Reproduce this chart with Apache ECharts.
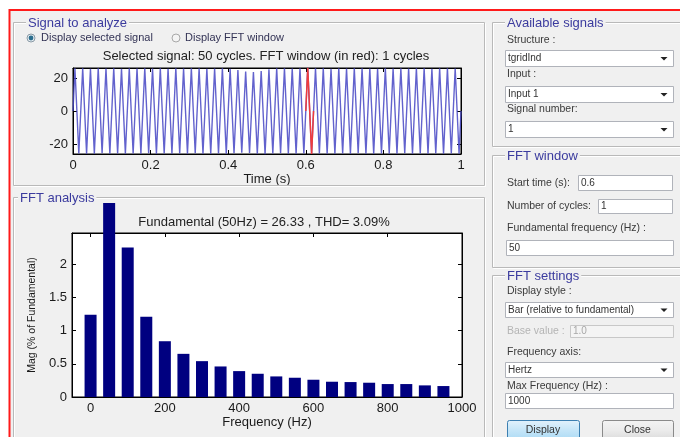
<!DOCTYPE html>
<html>
<head>
<meta charset="utf-8">
<title>FFT Analysis</title>
<script src="https://cdn.jsdelivr.net/npm/echarts@6/dist/echarts.min.js"></script>
<style>
  html, body { margin: 0; padding: 0; background: #ffffff; }
  #main { width: 680px; height: 437px; }
</style>
</head>
<body>
<div id="main"></div>
<script>
// ---- Selected signal: extreme value of each half cycle (50 Hz, 50 cycles over 1 s) ----
const signalPeaks = [
  25.9, -25.7, 25.8, -25.9, 25.6, -25.8, 25.9, -25.6, 25.7, -25.9,
  25.8, -25.7, 25.6, -25.8, 25.9, -25.7, 25.7, -25.9, 25.8, -25.6,
  25.7, -25.8, 25.9, -25.7, 25.6, -25.9, 25.8, -25.7, 25.7, -25.8,
  25.9, -25.6, 25.8, -25.8, 25.6, -25.9, 25.7, -25.7, 25.8, -25.8,
  25.5, -25.6, 24.8, -25.2, 23.9, -25.4, 23.6, -25.8, 24.2, -26.1,
  25.2, -25.7, 25.8, -25.6, 25.9, -25.8, 25.7, -25.9, 25.8, -25.7,
  26.1, -26.0, 25.8, -25.7, 25.9, -25.8, 25.6, -25.9, 25.8, -25.7,
  25.7, -25.8, 25.9, -25.6, 25.8, -25.9, 25.7, -25.8, 25.6, -25.7,
  25.9, -25.8, 25.7, -25.9, 25.8, -25.6, 25.7, -25.8, 25.9, -25.7,
  25.8, -25.9, 25.6, -25.7, 25.8, -25.8, 25.9, -25.7, 25.7, -25.9
];
const halfCycleSeconds = 0.01;
const fftWindowStart = 0.6;     // s
const fftWindowCycles = 1;
const fundamentalHz = 50;

// ---- FFT result: harmonic magnitudes in % of fundamental ----
const harmonicFreqs = [0, 50, 100, 150, 200, 250, 300, 350, 400, 450,
                       500, 550, 600, 650, 700, 750, 800, 850, 900, 950];
const harmonicMags  = [1.24, 2.92, 2.25, 1.21, 0.84, 0.65, 0.54, 0.46, 0.39, 0.35,
                       0.31, 0.29, 0.26, 0.23, 0.225, 0.215, 0.195, 0.195, 0.175, 0.165];

// ---- tick labels ----
const timeTicks = [0, 0.2, 0.4, 0.6, 0.8, 1];
const signalTicks = [-20, 0, 20];
const freqTicks = [0, 200, 400, 600, 800, 1000];
const magTicks = [0, 0.5, 1, 1.5, 2];

const FONT = '"Liberation Sans", Arial, Helvetica, sans-serif';

// waveform polyline through the half-cycle extremes
const signalLine = [[0, 0]]
  .concat(signalPeaks.map((v, i) => [(i + 0.5) * halfCycleSeconds, v]))
  .concat([[1, 0]]);
const windowEnd = fftWindowStart + fftWindowCycles / fundamentalHz;
const windowLine = [[fftWindowStart, 0]]
  .concat(signalLine.filter(p => p[0] > fftWindowStart && p[0] < windowEnd))
  .concat([[windowEnd, 0]]);
const barData = harmonicFreqs.map((f, i) => [f, harmonicMags[i]]);

// ---------- GUI decorations ----------
const G = [];
function text(x, y, s, opt) {
  const st = Object.assign({
    text: s, fill: '#3a3a3a', font: '10.5px ' + FONT,
    align: 'left', verticalAlign: 'middle',
    textAlign: 'left', textVerticalAlign: 'middle'
  }, opt || {});
  G.push({ type: 'text', x: x, y: y, z: 6, style: st, silent: true });
}
function panel(x, y, w, h, title, tx) {
  G.push({ type: 'rect', z: 1, silent: true,
    shape: { x: x + 1.5, y: y + 1.5, width: w, height: h },
    style: { fill: null, stroke: '#ffffff', lineWidth: 1 } });
  G.push({ type: 'rect', z: 2, silent: true,
    shape: { x: x + 0.5, y: y + 0.5, width: w, height: h },
    style: { fill: null, stroke: '#b9b9b9', lineWidth: 1 } });
  text(tx, y + 1, title, { fill: '#3b3b9e', font: '13px ' + FONT,
    backgroundColor: '#f0f0f0', padding: [0, 2, 0, 2] });
}
function box(x, y, w, h, value, opt) {
  opt = opt || {};
  G.push({ type: 'rect', z: 3, silent: true,
    shape: { x: x + 0.5, y: y + 0.5, width: w, height: h },
    style: { fill: opt.fill || '#ffffff', stroke: opt.stroke || '#b0b3ba', lineWidth: 1 } });
  text(x + 3, y + h / 2 + 0.5, value, { fill: opt.color || '#333333', font: '10px ' + FONT });
}
function dropdown(x, y, w, h, value) {
  box(x, y, w, h, value);
  const cx = x + w - 9, cy = y + h / 2 + 0.5;
  G.push({ type: 'polygon', z: 6, silent: true,
    shape: { points: [[cx - 3.5, cy - 1.5], [cx + 3.5, cy - 1.5], [cx, cy + 2]] },
    style: { fill: '#222222' } });
}
function button(x, y, w, h, label, blue) {
  G.push({ type: 'rect', z: 3, silent: true,
    shape: { x: x + 0.5, y: y + 0.5, width: w, height: h, r: 2 },
    style: {
      fill: new echarts.graphic.LinearGradient(0, 0, 0, 1, blue
        ? [{ offset: 0, color: '#e3f2fc' }, { offset: 0.5, color: '#c4e5f8' }, { offset: 1, color: '#a9d9f4' }]
        : [{ offset: 0, color: '#f4f4f4' }, { offset: 0.5, color: '#ebebeb' }, { offset: 1, color: '#d9d9d9' }]),
      stroke: blue ? '#3c7fb1' : '#8a8a8a', lineWidth: 1 } });
  text(x + w / 2, y + h / 2 + 0.5, label, { align: 'center', textAlign: 'center', fill: '#333333', font: '10.5px ' + FONT });
}

// window background with red outline
G.push({ type: 'rect', z: -10, silent: true,
  shape: { x: 9.5, y: 10, width: 700, height: 460 },
  style: { fill: '#f0f0f0', stroke: '#ff1a1a', lineWidth: 2 } });

// left panels
panel(13, 22, 471, 163, 'Signal to analyze', 26);
panel(13, 197, 471, 260, 'FFT analysis', 18);

// radio buttons
G.push({ type: 'circle', z: 5, silent: true, shape: { cx: 31, cy: 38, r: 4 },
  style: { fill: '#e8eef2', stroke: '#8a9aa6', lineWidth: 1 } });
G.push({ type: 'circle', z: 6, silent: true, shape: { cx: 31, cy: 38, r: 2.4 },
  style: { fill: '#2c6e8e' } });
text(41, 38, 'Display selected signal', { font: '11px ' + FONT, fill: '#333355' });
G.push({ type: 'circle', z: 5, silent: true, shape: { cx: 176, cy: 38, r: 4 },
  style: { fill: '#f4f4f4', stroke: '#a8a8a8', lineWidth: 1 } });
text(185, 38, 'Display FFT window', { font: '11px ' + FONT, fill: '#333355' });

// plot titles
text(266, 56, 'Selected signal: 50 cycles. FFT window (in red): 1 cycles',
  { align: 'center', textAlign: 'center', font: '13px ' + FONT, fill: '#222222' });
text(264, 222, 'Fundamental (50Hz) = 26.33 , THD= 3.09%',
  { align: 'center', textAlign: 'center', font: '13px ' + FONT, fill: '#222222' });

// right panels
panel(492, 22, 200, 124, 'Available signals', 505);
text(507, 40, 'Structure :');
dropdown(505, 50, 168, 16, 'tgridInd');
text(507, 74, 'Input :');
dropdown(505, 86, 168, 16, 'Input 1');
text(507, 109, 'Signal number:');
dropdown(505, 121, 168, 16, '1');

panel(492, 155, 200, 112, 'FFT window', 505);
text(507, 183, 'Start time (s):');
box(578, 175, 94, 15, '0.6');
text(507, 206, 'Number of cycles:');
box(598, 199, 74, 14, '1');
text(507, 228, 'Fundamental frequency (Hz) :');
box(506, 240, 167, 15, '50');

panel(492, 275, 200, 180, 'FFT settings', 505);
text(507, 291, 'Display style :');
dropdown(505, 302, 168, 15, 'Bar (relative to fundamental)');
text(507, 331, 'Base value :', { fill: '#b4b4b4' });
box(570, 325, 103, 12, '1.0', { fill: '#f4f4f4', stroke: '#c8c8c8', color: '#a8a8a8' });
text(507, 352, 'Frequency axis:');
dropdown(505, 362, 168, 15, 'Hertz');
text(507, 386, 'Max Frequency (Hz) :');
box(505, 393, 168, 15, '1000');
button(507, 420, 72, 20, 'Display', true);
button(602, 420, 71, 20, 'Close', false);

// ---------- axes ----------
const axisLineBlack = { show: true, onZero: false, lineStyle: { color: '#000000', width: 1 } };
const tickIn = (vals) => ({ show: true, inside: true, length: 4, customValues: vals, lineStyle: { color: '#000000' } });
const labelStyle = (vals, margin) => ({
  customValues: vals, margin: margin, color: '#1a1a1a', fontSize: 13, fontFamily: FONT,
  formatter: (v) => String(v)
});

const option = {
  animation: false,
  backgroundColor: '#ffffff',
  graphic: { elements: G },
  grid: [
    { left: 73, top: 68, width: 388, height: 86, show: true, backgroundColor: '#ffffff', borderColor: '#000000', borderWidth: 1 },
    { left: 72, top: 233, width: 390, height: 164, show: true, backgroundColor: '#ffffff', borderColor: '#000000', borderWidth: 1 }
  ],
  xAxis: [
    { gridIndex: 0, type: 'value', min: 0, max: 1, position: 'bottom',
      axisLine: axisLineBlack, axisTick: tickIn(timeTicks), axisLabel: labelStyle(timeTicks, 5),
      splitLine: { show: false },
      name: 'Time (s)', nameLocation: 'middle', nameGap: 15,
      nameTextStyle: { color: '#1a1a1a', fontSize: 13, fontFamily: FONT } },
    { gridIndex: 0, type: 'value', min: 0, max: 1, position: 'top',
      axisLine: axisLineBlack, axisTick: tickIn(timeTicks), axisLabel: { show: false }, splitLine: { show: false } },
    { gridIndex: 1, type: 'value', min: -50, max: 1000, position: 'bottom',
      axisLine: axisLineBlack, axisTick: tickIn(freqTicks), axisLabel: labelStyle(freqTicks, 5),
      splitLine: { show: false },
      name: 'Frequency (Hz)', nameLocation: 'middle', nameGap: 17,
      nameTextStyle: { color: '#1a1a1a', fontSize: 13, fontFamily: FONT } },
    { gridIndex: 1, type: 'value', min: -50, max: 1000, position: 'top',
      axisLine: axisLineBlack, axisTick: tickIn(freqTicks), axisLabel: { show: false }, splitLine: { show: false } }
  ],
  yAxis: [
    { gridIndex: 0, type: 'value', min: -26, max: 26, position: 'left',
      axisLine: axisLineBlack, axisTick: tickIn(signalTicks), axisLabel: labelStyle(signalTicks, 5),
      splitLine: { show: false } },
    { gridIndex: 0, type: 'value', min: -26, max: 26, position: 'right',
      axisLine: axisLineBlack, axisTick: tickIn(signalTicks), axisLabel: { show: false }, splitLine: { show: false } },
    { gridIndex: 1, type: 'value', min: 0, max: 2.47, position: 'left',
      axisLine: axisLineBlack, axisTick: tickIn(magTicks), axisLabel: labelStyle(magTicks, 5),
      splitLine: { show: false },
      name: 'Mag (% of Fundamental)', nameLocation: 'middle', nameRotate: 90, nameGap: 34,
      nameTextStyle: { color: '#1a1a1a', fontSize: 10.5, fontFamily: FONT } },
    { gridIndex: 1, type: 'value', min: 0, max: 2.47, position: 'right',
      axisLine: axisLineBlack, axisTick: tickIn(magTicks), axisLabel: { show: false }, splitLine: { show: false } }
  ],
  series: [
    { type: 'line', xAxisIndex: 0, yAxisIndex: 0, data: signalLine,
      showSymbol: false, symbol: 'none', silent: true,
      lineStyle: { color: '#4646c4', width: 1.4, opacity: 0.85 } },
    { type: 'line', xAxisIndex: 0, yAxisIndex: 0, data: windowLine,
      showSymbol: false, symbol: 'none', silent: true, z: 3,
      lineStyle: { color: '#f03c3c', width: 1.5 } },
    { type: 'bar', xAxisIndex: 2, yAxisIndex: 2, data: barData,
      barWidth: 12, clip: false, silent: true,
      itemStyle: { color: '#000080' } }
  ]
};

const chart = echarts.init(document.getElementById('main'), null, { renderer: 'canvas' });
chart.setOption(option);
</script>
</body>
</html>
